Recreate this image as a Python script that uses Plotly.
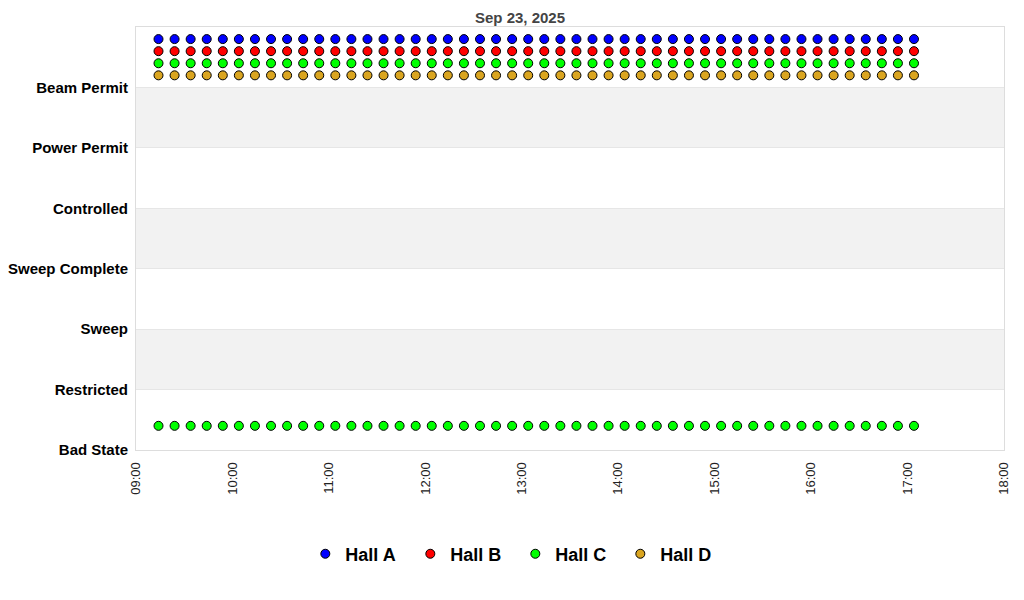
import plotly.graph_objects as go

# ---- data ----
states = ["Bad State", "Restricted", "Sweep", "Sweep Complete", "Controlled", "Power Permit", "Beam Permit"]
times = [
    "2025-09-23 09:14", "2025-09-23 09:24", "2025-09-23 09:34", "2025-09-23 09:44", "2025-09-23 09:54", "2025-09-23 10:04",
    "2025-09-23 10:14", "2025-09-23 10:24", "2025-09-23 10:34", "2025-09-23 10:44", "2025-09-23 10:54", "2025-09-23 11:04",
    "2025-09-23 11:14", "2025-09-23 11:24", "2025-09-23 11:34", "2025-09-23 11:44", "2025-09-23 11:54", "2025-09-23 12:04",
    "2025-09-23 12:14", "2025-09-23 12:24", "2025-09-23 12:34", "2025-09-23 12:44", "2025-09-23 12:54", "2025-09-23 13:04",
    "2025-09-23 13:14", "2025-09-23 13:24", "2025-09-23 13:34", "2025-09-23 13:44", "2025-09-23 13:54", "2025-09-23 14:04",
    "2025-09-23 14:14", "2025-09-23 14:24", "2025-09-23 14:34", "2025-09-23 14:44", "2025-09-23 14:54", "2025-09-23 15:04",
    "2025-09-23 15:14", "2025-09-23 15:24", "2025-09-23 15:34", "2025-09-23 15:44", "2025-09-23 15:54", "2025-09-23 16:04",
    "2025-09-23 16:14", "2025-09-23 16:24", "2025-09-23 16:34", "2025-09-23 16:44", "2025-09-23 16:54", "2025-09-23 17:04",
]
hall_a_state = ["Beam Permit"] * 48
hall_b_state = ["Beam Permit"] * 48
hall_c_state = ["Beam Permit"] * 48
hall_c_state2 = ["Bad State"] * 48
hall_d_state = ["Beam Permit"] * 48

halls = ["Hall A", "Hall B", "Hall C", "Hall D"]
colors = ["#0000ff", "#ff0000", "#00ff00", "#daa520"]
offsets = [0.8, 0.6, 0.4, 0.2]

series = [
    (times, hall_a_state),
    (times, hall_b_state),
    (times + times, hall_c_state + hall_c_state2),
    (times, hall_d_state),
]

idx = {s: i for i, s in enumerate(states)}

fig = go.Figure()
for name, color, off, (xs, ys) in zip(halls, colors, offsets, series):
    fig.add_trace(go.Scatter(
        x=xs, y=[idx[s] + off for s in ys], mode="markers", name=name,
        marker=dict(symbol="circle", size=9, color=color, line=dict(color="black", width=1)),
    ))

# alternating bands
for lo in [1, 3, 5]:
    fig.add_shape(type="rect", xref="paper", yref="y", x0=0, x1=1, y0=lo, y1=lo + 1,
                  fillcolor="#f2f2f2", line=dict(width=0), layer="below")

fig.update_layout(
    width=1024, height=600,
    margin=dict(l=128, r=28, t=19, b=158, autoexpand=False),
    paper_bgcolor="white", plot_bgcolor="white",
    font=dict(family="Liberation Sans, Arial, sans-serif", color="black"),
    title=dict(text="Sep 23, 2025", x=0.5, xanchor="center", y=0.992, yanchor="top",
               pad=dict(t=0, b=0), font=dict(size=15, color="#444", weight="bold")),
    showlegend=True,
    legend=dict(orientation="h", x=0.437, xanchor="center", y=-0.246, yanchor="middle",
                font=dict(size=18, weight="bold"), itemsizing="trace",
                entrywidth=60, entrywidthmode="pixels"),
    xaxis=dict(type="date", range=["2025-09-23 09:00", "2025-09-23 18:00"], dtick=3600000,
               tickformat="%H:%M", tickangle=-90, showgrid=False, zeroline=False,
               tickfont=dict(size=13, color="#222"), showline=True, linecolor="#dddddd", mirror=True,
               ticks="", ticklabelstandoff=6, automargin=False),
    yaxis=dict(range=[0, 7], tickvals=list(range(len(states))), ticktext=states,
               showgrid=True, gridcolor="#e6e6e6", zeroline=False,
               tickfont=dict(size=15, weight="bold"), showline=True, linecolor="#dddddd", mirror=True,
               ticks="", ticklabelstandoff=4, automargin=False),
)

fig.write_html("out.html")
